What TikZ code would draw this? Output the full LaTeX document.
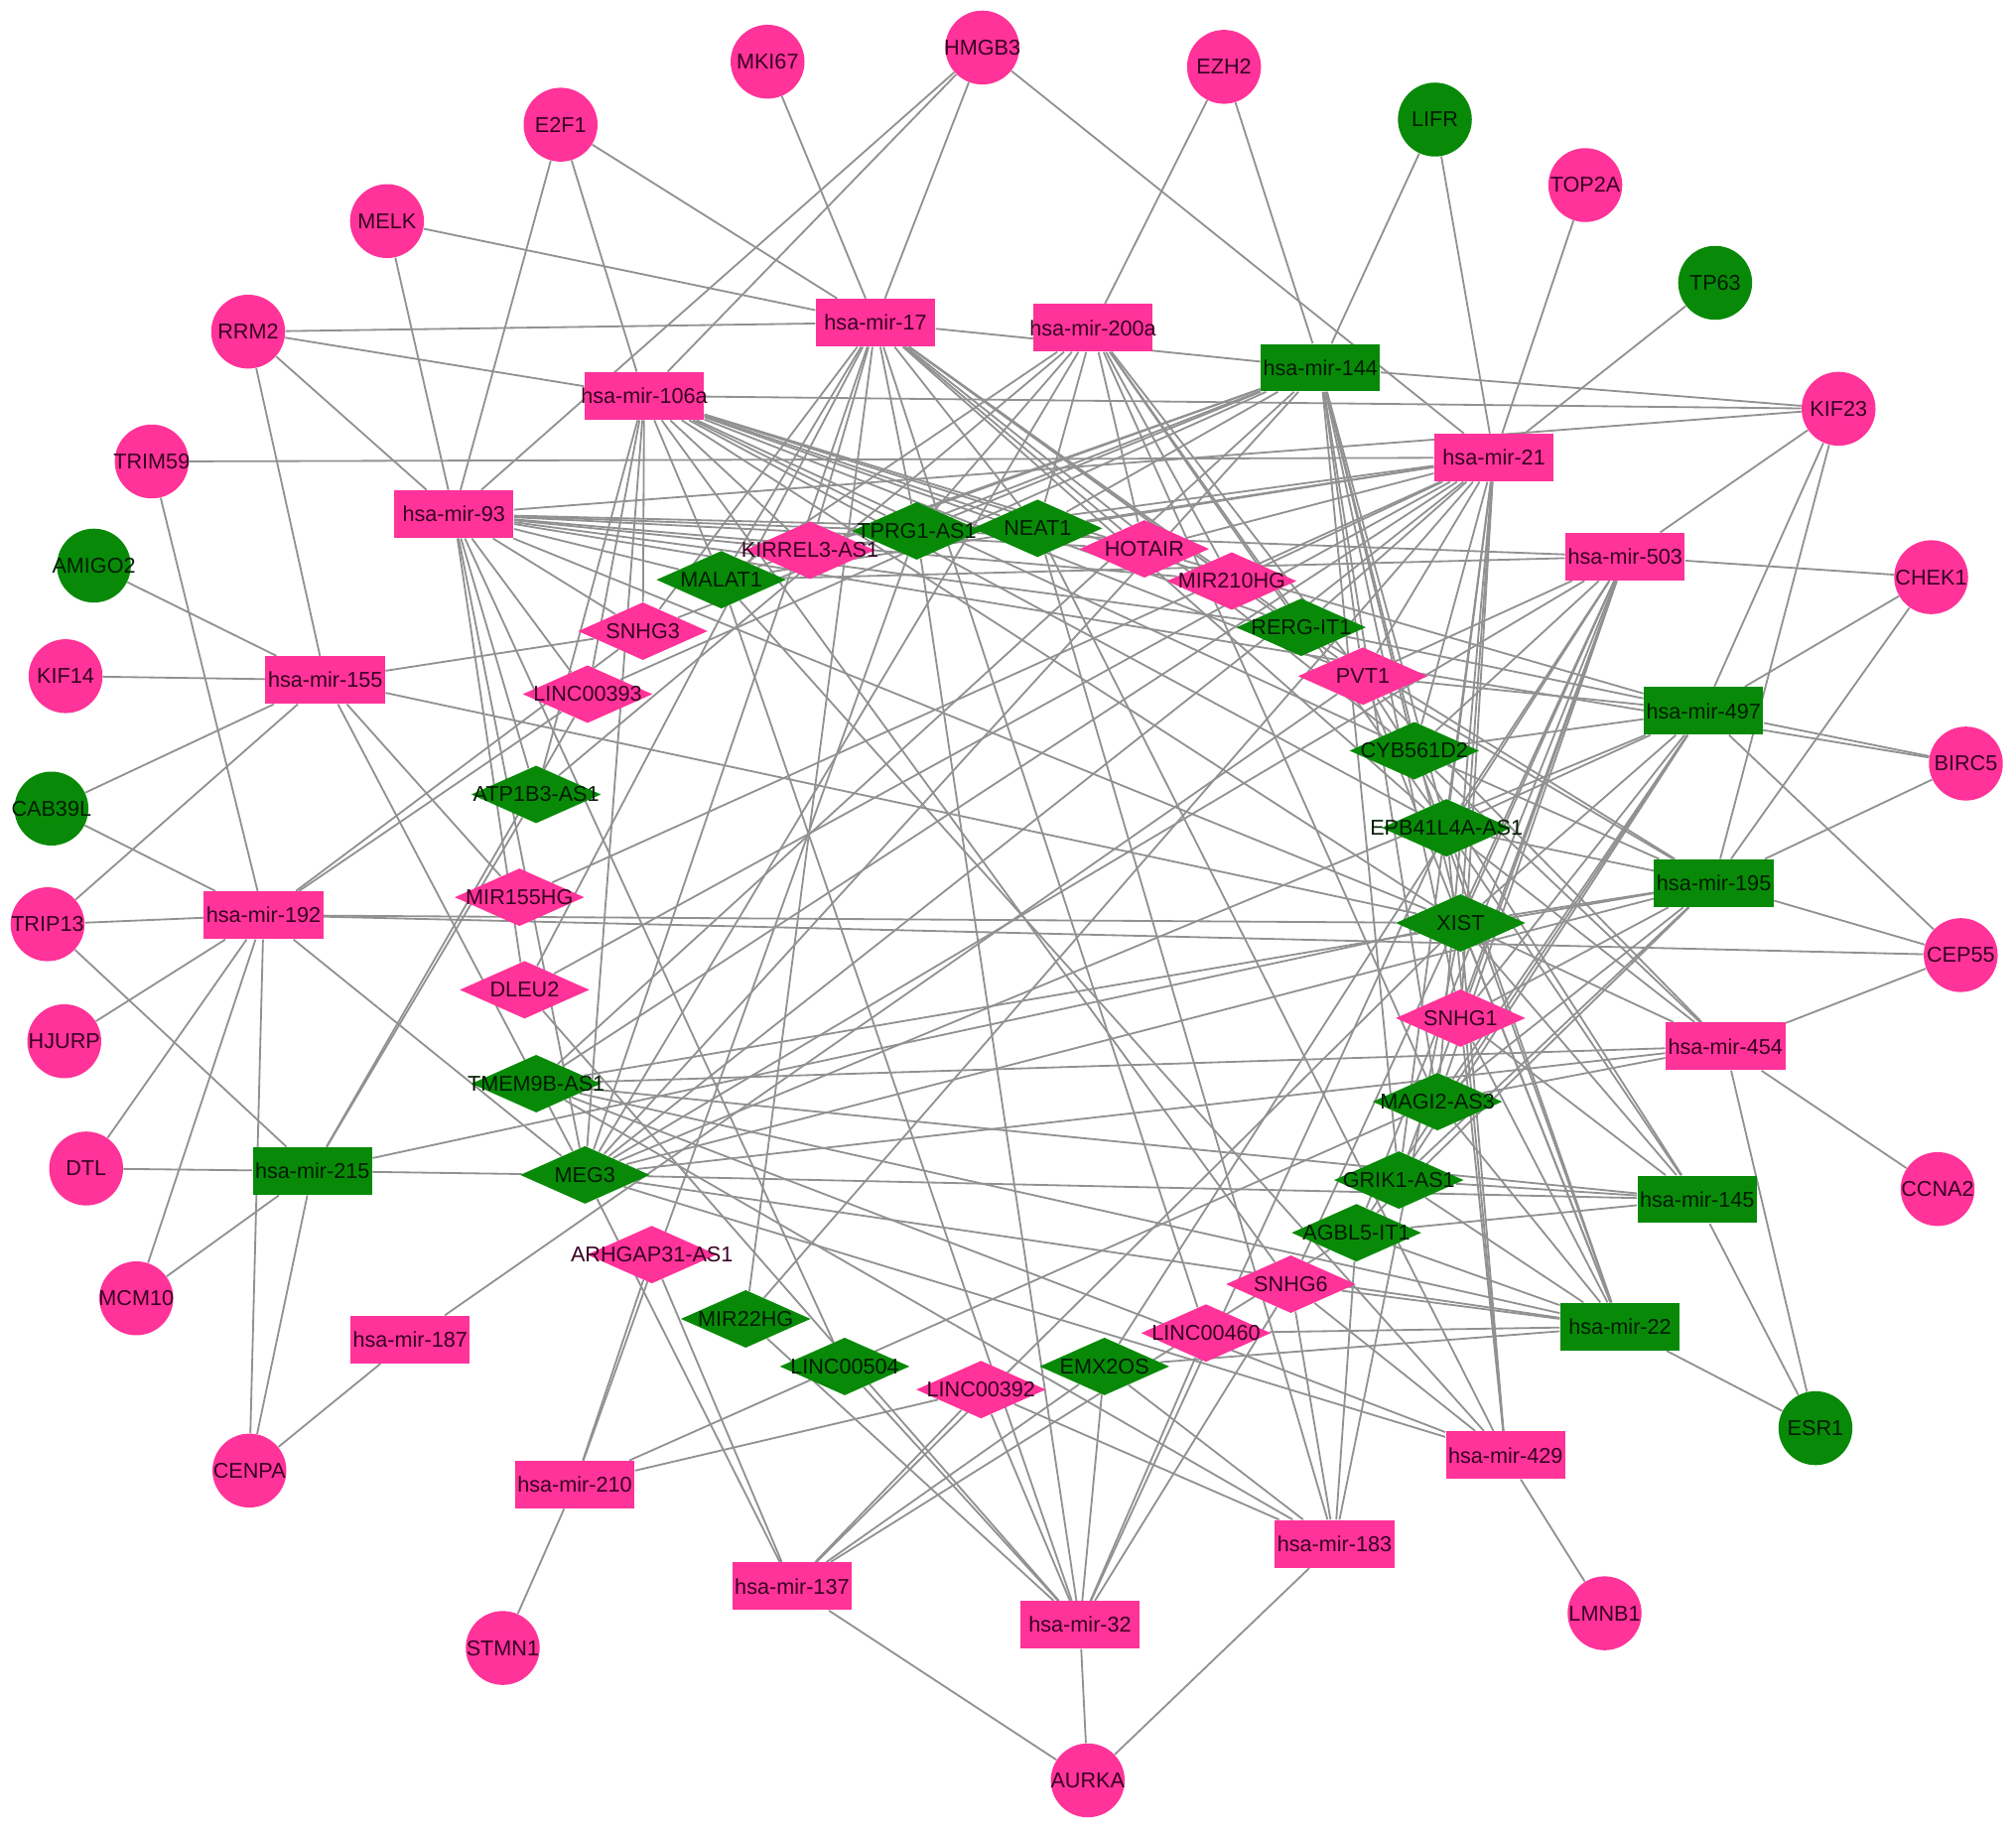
\documentclass[tikz,border=0pt]{standalone}
\usepackage{fontspec}
\setmainfont{Liberation Sans}
\usetikzlibrary{shapes.geometric}
\definecolor{pinkc}{RGB}{255,51,153}
\definecolor{greenc}{RGB}{8,138,8}
\definecolor{pinktxt}{RGB}{55,0,35}
\definecolor{greentxt}{RGB}{0,28,0}
\definecolor{edgec}{RGB}{145,145,145}
\pgfdeclarelayer{bg}
\pgfdeclarelayer{edges}
\pgfsetlayers{bg,edges,main}
\newcommand\lb[1]{\makebox[0pt]{#1}}
\tikzset{
  gene/.style={circle, minimum size=1.15cm, inner sep=0pt, draw=none},
  mir/.style={rectangle, minimum width=1.86cm, minimum height=0.74cm, inner sep=0pt, draw=none},
  lnc/.style={diamond, minimum width=2.02cm, minimum height=0.9cm, inner sep=0pt, draw=none},
  pk/.style={fill=pinkc, text=pinktxt},
  gr/.style={fill=greenc, text=greentxt},
  link/.style={draw=edgec, line width=0.8pt},
  every node/.append style={font=\fontsize{9.5}{11}\selectfont}
}
\begin{document}
\begin{tikzpicture}[x=0.02cm, y=-0.02cm]
\useasboundingbox (0,0) rectangle (1568,1424);
\begin{pgfonlayer}{bg}
\fill[white] (0,0) rectangle (1568,1424);
\end{pgfonlayer}
% lncRNAs
\node[lnc,pk] (kirrel3) at (630,428) {\lb{KIRREL3-AS1}};
\node[lnc,gr] (tprg1) at (713,413) {\lb{TPRG1-AS1}};
\node[lnc,gr] (neat1) at (807,411) {\lb{NEAT1}};
\node[lnc,pk] (hotair) at (890,427) {\lb{HOTAIR}};
\node[lnc,pk] (mir210hg) at (958,452) {\lb{MIR210HG}};
\node[lnc,gr] (malat1) at (561,451) {\lb{MALAT1}};
\node[lnc,pk] (snhg3) at (500,491) {\lb{SNHG3}};
\node[lnc,gr] (rerg) at (1012,488) {\lb{RERG-IT1}};
\node[lnc,pk] (pvt1) at (1060,526) {\lb{PVT1}};
\node[lnc,pk] (linc393) at (457,540) {\lb{LINC00393}};
\node[lnc,gr] (cyb) at (1100,584) {\lb{CYB561D2}};
\node[lnc,gr] (atp1b3) at (417,618) {\lb{ATP1B3-AS1}};
\node[lnc,gr] (epb) at (1125,644) {\lb{EPB41L4A-AS1}};
\node[lnc,pk] (mir155hg) at (404,698) {\lb{MIR155HG}};
\node[lnc,gr] (xist) at (1136,718) {\lb{XIST}};
\node[lnc,pk] (dleu2) at (408,770) {\lb{DLEU2}};
\node[lnc,pk] (snhg1) at (1136,792) {\lb{SNHG1}};
\node[lnc,gr] (tmem9b) at (417,843) {\lb{TMEM9B-AS1}};
\node[lnc,gr] (magi2) at (1118,857) {\lb{MAGI2-AS3}};
\node[lnc,gr] (meg3) at (455,914) {\lb{MEG3}};
\node[lnc,gr] (grik1) at (1088,918) {\lb{GRIK1-AS1}};
\node[lnc,gr] (agbl5) at (1055,959) {\lb{AGBL5-IT1}};
\node[lnc,pk] (arhgap31) at (507,976) {\lb{ARHGAP31-AS1}};
\node[lnc,pk] (snhg6) at (1004,999) {\lb{SNHG6}};
\node[lnc,gr] (mir22hg) at (580,1026) {\lb{MIR22HG}};
\node[lnc,pk] (linc460) at (938,1037) {\lb{LINC00460}};
\node[lnc,gr] (linc504) at (657,1063) {\lb{LINC00504}};
\node[lnc,gr] (emx2os) at (859,1063) {\lb{EMX2OS}};
\node[lnc,pk] (linc392) at (763,1081) {\lb{LINC00392}};
% miRNAs
\node[mir,pk] (m17) at (681,251) {\lb{hsa-mir-17}};
\node[mir,pk] (m200a) at (850,255) {\lb{hsa-mir-200a}};
\node[mir,gr] (m144) at (1027,286) {\lb{hsa-mir-144}};
\node[mir,pk] (m106a) at (501,308) {\lb{hsa-mir-106a}};
\node[mir,pk] (m21) at (1162,356) {\lb{hsa-mir-21}};
\node[mir,pk] (m93) at (353,400) {\lb{hsa-mir-93}};
\node[mir,pk] (m503) at (1264,433) {\lb{hsa-mir-503}};
\node[mir,pk] (m155) at (253,529) {\lb{hsa-mir-155}};
\node[mir,gr] (m497) at (1325,553) {\lb{hsa-mir-497}};
\node[mir,gr] (m195) at (1333,687) {\lb{hsa-mir-195}};
\node[mir,pk] (m192) at (205,712) {\lb{hsa-mir-192}};
\node[mir,pk] (m454) at (1342,814) {\lb{hsa-mir-454}};
\node[mir,gr] (m215) at (243,911) {\lb{hsa-mir-215}};
\node[mir,gr] (m145) at (1320,933) {\lb{hsa-mir-145}};
\node[mir,gr] (m22) at (1260,1032) {\lb{hsa-mir-22}};
\node[mir,pk] (m187) at (319,1042) {\lb{hsa-mir-187}};
\node[mir,pk] (m429) at (1171,1132) {\lb{hsa-mir-429}};
\node[mir,pk] (m210) at (447,1155) {\lb{hsa-mir-210}};
\node[mir,pk] (m183) at (1038,1201) {\lb{hsa-mir-183}};
\node[mir,pk] (m137) at (616,1234) {\lb{hsa-mir-137}};
\node[mir,pk] (m32) at (840,1264) {\lb{hsa-mir-32}};
% genes
\node[gene,pk] (mki67) at (597,48) {\lb{MKI67}};
\node[gene,pk] (hmgb3) at (764,37) {\lb{HMGB3}};
\node[gene,pk] (ezh2) at (952,52) {\lb{EZH2}};
\node[gene,pk] (e2f1) at (436,97) {\lb{E2F1}};
\node[gene,gr] (lifr) at (1116,93) {\lb{LIFR}};
\node[gene,pk] (top2a) at (1233,144) {\lb{TOP2A}};
\node[gene,pk] (melk) at (301,172) {\lb{MELK}};
\node[gene,gr] (tp63) at (1334,220) {\lb{TP63}};
\node[gene,pk] (rrm2) at (193,258) {\lb{RRM2}};
\node[gene,pk] (kif23) at (1430,318) {\lb{KIF23}};
\node[gene,pk] (trim59) at (118,359) {\lb{TRIM59}};
\node[gene,gr] (amigo2) at (73,440) {\lb{AMIGO2}};
\node[gene,pk] (chek1) at (1502,449) {\lb{CHEK1}};
\node[gene,pk] (kif14) at (51,526) {\lb{KIF14}};
\node[gene,gr] (cab39l) at (40,629) {\lb{CAB39L}};
\node[gene,pk] (birc5) at (1529,594) {\lb{BIRC5}};
\node[gene,pk] (trip13) at (37,719) {\lb{TRIP13}};
\node[gene,pk] (cep55) at (1525,743) {\lb{CEP55}};
\node[gene,pk] (hjurp) at (50,810) {\lb{HJURP}};
\node[gene,pk] (dtl) at (67,909) {\lb{DTL}};
\node[gene,pk] (ccna2) at (1507,925) {\lb{CCNA2}};
\node[gene,pk] (mcm10) at (106,1010) {\lb{MCM10}};
\node[gene,gr] (esr1) at (1412,1111) {\lb{ESR1}};
\node[gene,pk] (cenpa) at (194,1144) {\lb{CENPA}};
\node[gene,pk] (lmnb1) at (1248,1255) {\lb{LMNB1}};
\node[gene,pk] (stmn1) at (391,1282) {\lb{STMN1}};
\node[gene,pk] (aurka) at (846,1385) {\lb{AURKA}};
\begin{pgfonlayer}{edges}
% gene - miRNA
\foreach \a/\b in {mki67/m17, hmgb3/m106a, hmgb3/m93, hmgb3/m17, hmgb3/m21,
  ezh2/m200a, ezh2/m144, e2f1/m17, e2f1/m106a, e2f1/m93, lifr/m144, lifr/m21,
  top2a/m21, melk/m17, melk/m93, tp63/m21, rrm2/m17, rrm2/m106a, rrm2/m93, rrm2/m155,
  kif23/m106a, kif23/m144, kif23/m93, kif23/m503, kif23/m497, kif23/m195,
  trim59/m21, trim59/m192, amigo2/m155, chek1/m503, chek1/m497, chek1/m195,
  kif14/m155, cab39l/m155, cab39l/m192, birc5/m497, birc5/m195, birc5/m93,
  trip13/m192, trip13/m155, trip13/m215, cep55/m497, cep55/m195, cep55/m454, cep55/m192,
  hjurp/m192, dtl/m215, dtl/m192, ccna2/m454, mcm10/m192, mcm10/m215,
  esr1/m22, esr1/m145, esr1/m454, cenpa/m192, cenpa/m215, cenpa/m187,
  lmnb1/m429, stmn1/m210, aurka/m137, aurka/m32, aurka/m183, m17/m144}
  \draw[link] (\a) -- (\b);
% miRNA - lncRNA
\foreach \a/\b in {m93/malat1, m93/kirrel3, m93/tprg1, m93/neat1, m93/hotair, m93/mir210hg,
  m93/rerg, m93/snhg3, m93/linc393, m93/atp1b3, m93/dleu2, m93/meg3,
  m93/xist, m93/linc504,
  m106a/snhg3, m106a/linc393, m106a/atp1b3, m106a/meg3, m106a/malat1, m106a/kirrel3,
  m106a/tprg1, m106a/neat1, m106a/hotair, m106a/mir210hg, m106a/rerg, m106a/pvt1,
  m106a/cyb, m106a/epb, m106a/xist, m106a/snhg6,
  m17/malat1, m17/kirrel3, m17/tprg1, m17/neat1, m17/hotair, m17/mir210hg, m17/rerg,
  m17/pvt1, m17/cyb, m17/epb, m17/dleu2, m17/meg3, m17/snhg3, m17/mir22hg, m17/linc460,
  m200a/malat1, m200a/tprg1, m200a/neat1, m200a/hotair, m200a/mir210hg, m200a/rerg,
  m200a/pvt1, m200a/epb, m200a/meg3, m200a/atp1b3, m200a/magi2,
  m144/malat1, m144/kirrel3, m144/tprg1, m144/neat1, m144/snhg3, m144/linc393, m144/meg3,
  m144/tmem9b, m144/pvt1, m144/epb, m144/xist, m144/snhg1, m144/magi2, m144/cyb, m144/grik1,
  m21/malat1, m21/kirrel3, m21/neat1, m21/hotair, m21/mir210hg, m21/rerg, m21/pvt1, m21/cyb,
  m21/epb, m21/xist, m21/snhg1, m21/magi2, m21/grik1, m21/meg3, m21/tmem9b, m21/dleu2,
  m21/mir22hg, m21/mir155hg,
  m503/pvt1, m503/cyb, m503/epb, m503/xist, m503/snhg1, m503/magi2, m503/grik1, m503/agbl5,
  m503/snhg6, m503/emx2os, m503/malat1, m503/meg3, m503/tprg1,
  m497/pvt1, m497/rerg, m497/epb, m497/xist, m497/snhg1, m497/magi2, m497/grik1, m497/cyb,
  m497/hotair, m497/meg3, m497/agbl5,
  m195/pvt1, m195/cyb, m195/epb, m195/xist, m195/snhg1, m195/magi2, m195/grik1, m195/agbl5,
  m195/meg3, m195/tmem9b, m195/rerg,
  m454/pvt1, m454/epb, m454/cyb, m454/magi2, m454/meg3, m454/tmem9b, m454/xist,
  m145/grik1, m145/agbl5, m145/meg3, m145/xist, m145/epb, m145/snhg1, m145/tmem9b, m145/pvt1,
  m22/emx2os, m22/snhg6, m22/tmem9b, m22/meg3, m22/agbl5, m22/grik1, m22/magi2, m22/snhg1,
  m22/xist, m22/epb, m22/cyb, m22/pvt1, m22/linc460,
  m429/meg3, m429/tmem9b, m429/malat1, m429/neat1, m429/snhg1, m429/xist, m429/epb, m429/snhg6,
  m183/tmem9b, m183/neat1, m183/emx2os, m183/linc392, m183/snhg6, m183/agbl5, m183/xist,
  m137/arhgap31, m137/meg3, m137/linc392, m137/emx2os, m137/agbl5, m137/xist,
  m32/malat1, m32/tprg1, m32/dleu2, m32/linc504, m32/mir22hg, m32/linc392, m32/emx2os,
  m32/linc460, m32/snhg6, m32/epb,
  m155/snhg3, m155/xist, m155/mir155hg, m155/meg3,
  m192/snhg3, m192/linc393, m192/xist, m192/meg3,
  m215/atp1b3, m215/linc393, m215/xist, m215/meg3,
  m210/arhgap31, m210/tprg1, m210/linc392, m210/magi2,
  m187/pvt1}
  \draw[link] (\a) -- (\b);
\end{pgfonlayer}
\end{tikzpicture}
\end{document}
